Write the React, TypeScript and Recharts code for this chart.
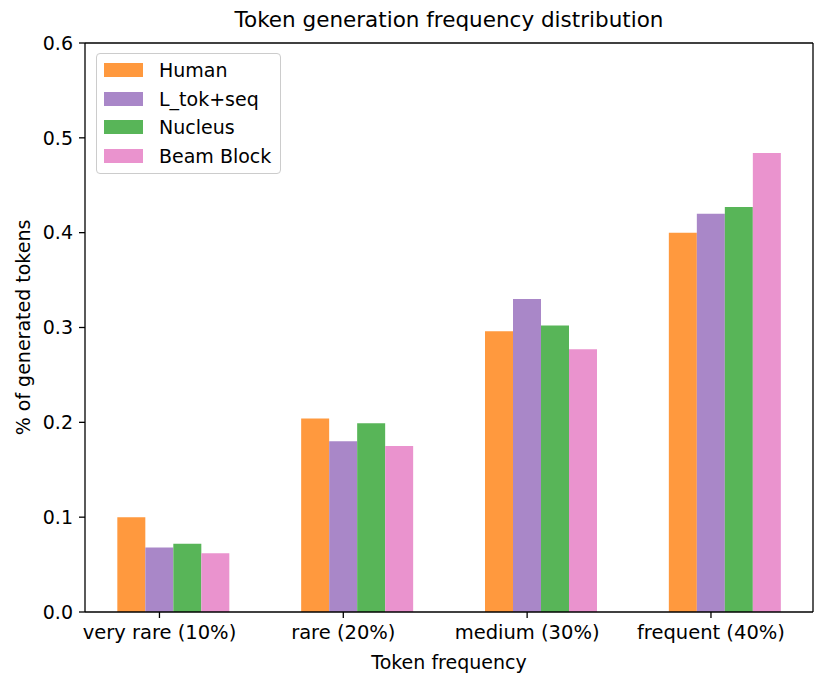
import { Bar, BarChart, Label, Legend, ReferenceLine, XAxis, YAxis } from "recharts";

const categories = ["very rare (10%)", "rare (20%)", "medium (30%)", "frequent (40%)"];
const human = [0.1, 0.204, 0.296, 0.4];
const ltokseq = [0.068, 0.18, 0.33, 0.42];
const nucleus = [0.072, 0.199, 0.302, 0.427];
const beamBlock = [0.062, 0.175, 0.277, 0.484];
const yTicks = [0, 0.1, 0.2, 0.3, 0.4, 0.5, 0.6];

// the category ticks sit under the second bar of each group, not the group centre
const tickShift = -0.075;
const xTicks = categories.map((_, i) => i + tickShift);

const series = [
  { key: "human", name: "Human", color: "#FF993E", values: human },
  { key: "ltokseq", name: "L_tok+seq", color: "#A987C8", values: ltokseq },
  { key: "nucleus", name: "Nucleus", color: "#58B558", values: nucleus },
  { key: "beam", name: "Beam Block", color: "#EA93CE", values: beamBlock },
];

const data = categories.map((name, i) => {
  const row: Record<string, number | string> = { x: i, name };
  series.forEach((s) => (row[s.key] = s.values[i]));
  return row;
});

const font = "'DejaVu Sans', sans-serif";

const renderLegend = () => (
  <div
    style={{
      width: 185,
      height: 121,
      boxSizing: "border-box",
      border: "1px solid #cccccc",
      borderRadius: 4,
      background: "rgba(255,255,255,0.8)",
      position: "relative",
      fontFamily: font,
      fontSize: 19,
      color: "#000",
    }}
  >
    {series.map((s, i) => (
      <div key={s.key} style={{ position: "absolute", left: 0, top: 16 + i * 28.7 - 12, height: 24, display: "flex", alignItems: "center" }}>
        <div style={{ width: 39, height: 14, background: s.color, marginLeft: 7 }} />
        <span style={{ marginLeft: 16, whiteSpace: "nowrap" }}>{s.name}</span>
      </div>
    ))}
  </div>
);

export default function App() {
  return (
    <div style={{ position: "absolute", left: 0, top: 0, width: 829, height: 686, background: "#fff", fontFamily: font }}>
      <div
        style={{
          position: "absolute",
          left: 85,
          width: 728,
          top: 7,
          textAlign: "center",
          fontSize: 21.5,
          color: "#000",
        }}
      >
        Token generation frequency distribution
      </div>
      <BarChart width={829} height={686} data={data} margin={{ top: 43, right: 16, bottom: 0, left: 0 }} barGap={0}>
        <XAxis
          dataKey="x"
          type="number"
          domain={[-0.48, 3.48]}
          ticks={xTicks}
          tickFormatter={(v: number) => categories[Math.round(v - tickShift)]}
          height={74}
          tickSize={6}
          tickMargin={7}
          stroke="#000"
          strokeWidth={1.3}
          tick={{ fill: "#000", fontSize: 19.5, fontFamily: font }}
          interval={0}
          allowDataOverflow
        >
          <Label value="Token frequency" position="insideBottom" offset={17} style={{ fill: "#000", fontSize: 19, fontFamily: font }} />
        </XAxis>
        <YAxis
          type="number"
          domain={[0, 0.6]}
          ticks={yTicks}
          tickFormatter={(v: number) => v.toFixed(1)}
          width={85}
          tickSize={6}
          tickMargin={6}
          stroke="#000"
          strokeWidth={1.3}
          tick={{ fill: "#000", fontSize: 19, fontFamily: font }}
          interval={0}
          allowDataOverflow
        >
          <Label
            value="% of generated tokens"
            angle={-90}
            position="insideLeft"
            offset={23}
            style={{ fill: "#000", fontSize: 19, fontFamily: font, textAnchor: "middle" }}
          />
        </YAxis>
        <ReferenceLine y={0.6} stroke="#000" strokeWidth={1.3} />
        <ReferenceLine x={3.48} stroke="#000" strokeWidth={1.3} />
        {series.map((s) => (
          <Bar key={s.key} dataKey={s.key} name={s.name} fill={s.color} barSize={28} isAnimationActive={false} />
        ))}
        <Legend
          layout="vertical"
          align="center"
          verticalAlign="middle"
          content={renderLegend}
          wrapperStyle={{ left: 96, top: 53, width: 185, height: 121 }}
        />
      </BarChart>
    </div>
  );
}
